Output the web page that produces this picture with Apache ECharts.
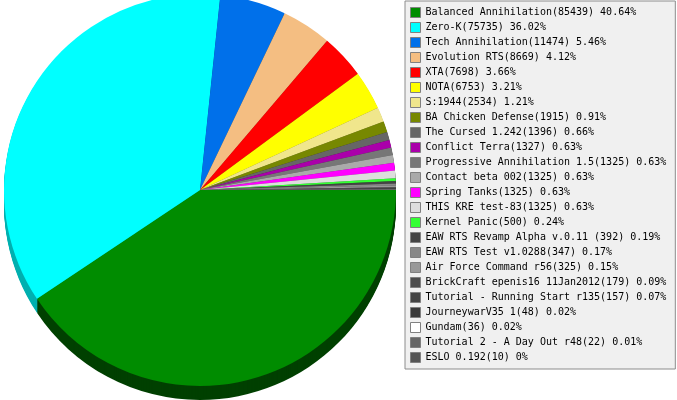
<!DOCTYPE html>
<html><head><meta charset="utf-8">
<script src="https://cdn.jsdelivr.net/npm/echarts@6/dist/echarts.min.js"></script>
<style>html,body{margin:0;padding:0;background:#fff}#c{width:677px;height:400px}</style>
</head><body><div id="c"></div>
<script>
const names = ["Balanced Annihilation","Zero-K","Tech Annihilation","Evolution RTS","XTA","NOTA","S:1944","BA Chicken Defense","The Cursed 1.242","Conflict Terra","Progressive Annihilation 1.5","Contact beta 002","Spring Tanks","THIS KRE test-83","Kernel Panic","EAW RTS Revamp Alpha v.0.11 ","EAW RTS Test v1.0288","Air Force Command r56","BrickCraft epenis16 11Jan2012","Tutorial - Running Start r135","JourneywarV35 1","Gundam","Tutorial 2 - A Day Out r48","ESLO 0.192"];
const values = [85439,75735,11474,8669,7698,6753,2534,1915,1396,1327,1325,1325,1325,1325,500,392,347,325,179,157,48,36,22,10];
const colors = ["#008c00","#00ffff","#0070ea","#f4be82","#ff0000","#ffff00","#f0e68c","#778800","#666666","#aa00aa","#777777","#aaaaaa","#ff00ff","#dddddd","#33ff33","#444444","#888888","#999999","#4d4d4d","#444444","#3a3a3a","#ffffff","#666666","#555555"];
const sideColors = ["#004000","#00b0b0","#003a75","#7a5f41","#800000","#808000","#787346","#3c4400","#333333","#550055","#3c3c3c","#555555","#800080","#6e6e6e","#1a801a","#222222","#444444","#4c4c4c","#262626","#222222","#1d1d1d","#808080","#333333","#2a2a2a"];

const total = values.reduce((a,b)=>a+b,0);
const labelOf = {};
names.forEach((n,i)=>{ labelOf[n] = n + '(' + values[i] + ') ' + parseFloat((values[i]/total*100).toFixed(2)) + '%'; });

const CX = 200, CY = 190, R = 196, DEPTH = 14;
const series = [];
series.push({
  type:'pie', name:'top', z:10, center:[CX,CY], radius:R, startAngle:0, clockwise:true,
  label:{show:false}, labelLine:{show:false}, silent:true, emphasis:{disabled:true},
  itemStyle:{borderWidth:0},
  data: names.map((n,i)=>({name:n, value:values[i], itemStyle:{color:colors[i]}}))
});
for (let d = DEPTH; d >= 1; d--) {
  series.push({
    type:'pie', name:'side'+d, z:2, center:[CX,CY+d], radius:R, startAngle:0, clockwise:true,
    label:{show:false}, labelLine:{show:false}, silent:true, emphasis:{disabled:true},
    itemStyle:{borderWidth:0},
    data: names.map((n,i)=>({name:n, value:values[i], itemStyle:{color:sideColors[i]}}))
  });
}

const chart = echarts.init(document.getElementById('c'), null, {renderer:'canvas'});
chart.setOption({
  animation:false,
  backgroundColor:'#ffffff',
  legend:{
    orient:'vertical', left:405, top:1, selectedMode:false,
    data:names,
    backgroundColor:'#f0f0f0', borderColor:'#8c8c8c', borderWidth:1, borderRadius:0,
    padding:[6,9,6,5],
    itemWidth:10, itemHeight:10, itemGap:4, icon:'rect',
    itemStyle:{borderColor:'#808080', borderWidth:1},
    textStyle:{fontFamily:'DejaVu Sans Mono', fontSize:10, color:'#000', lineHeight:10},
    formatter:(n)=>labelOf[n]
  },
  series: series
});
</script></body></html>
